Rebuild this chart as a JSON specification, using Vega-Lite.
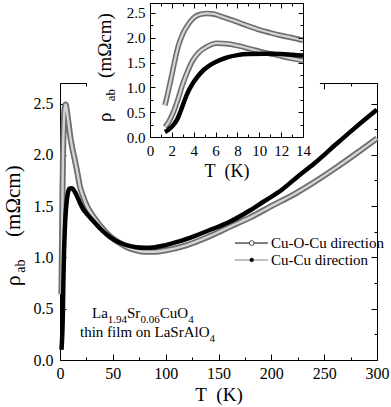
{
  "$schema": "https://vega.github.io/schema/vega-lite/v6.json",
  "width": 317,
  "height": 277,
  "autosize": {"type": "none"},
  "padding": {"left": 60, "top": 83, "right": 14, "bottom": 47},
  "background": "white",
  "config": {
    "font": "Liberation Serif",
    "view": {"stroke": null},
    "axis": {"grid": false, "domainColor": "black", "tickColor": "black", "labelColor": "black", "titleColor": "black", "labelFont": "Liberation Serif", "titleFont": "Liberation Serif", "titleFontWeight": "normal", "labelFlush": false, "labelOverlap": false, "domainWidth": 1, "tickWidth": 1},
    "text": {"font": "Liberation Serif", "color": "black"}
  },
  "datasets": {
    "rho": [
      {"s": "CuOCu", "T": 1.37, "rho": 0.64}, {"s": "CuOCu", "T": 1.5, "rho": 0.76}, {"s": "CuOCu", "T": 1.7, "rho": 0.95}, {"s": "CuOCu", "T": 1.9, "rho": 1.15}, {"s": "CuOCu", "T": 2.1, "rho": 1.36}, {"s": "CuOCu", "T": 2.3, "rho": 1.57}, {"s": "CuOCu", "T": 2.5, "rho": 1.76}, {"s": "CuOCu", "T": 2.75, "rho": 1.94}, {"s": "CuOCu", "T": 3.0, "rho": 2.08}, {"s": "CuOCu", "T": 3.35, "rho": 2.22}, {"s": "CuOCu", "T": 3.7, "rho": 2.33}, {"s": "CuOCu", "T": 4.1, "rho": 2.42}, {"s": "CuOCu", "T": 4.6, "rho": 2.47}, {"s": "CuOCu", "T": 5.2, "rho": 2.49}, {"s": "CuOCu", "T": 5.8, "rho": 2.48}, {"s": "CuOCu", "T": 6.5, "rho": 2.43}, {"s": "CuOCu", "T": 7.6, "rho": 2.35}, {"s": "CuOCu", "T": 8.7, "rho": 2.26}, {"s": "CuOCu", "T": 10, "rho": 2.16}, {"s": "CuOCu", "T": 11, "rho": 2.10}, {"s": "CuOCu", "T": 11.9, "rho": 2.05}, {"s": "CuOCu", "T": 13, "rho": 2.00}, {"s": "CuOCu", "T": 14, "rho": 1.95}, {"s": "CuOCu", "T": 16, "rho": 1.85}, {"s": "CuOCu", "T": 18.9, "rho": 1.69}, {"s": "CuOCu", "T": 22, "rho": 1.59}, {"s": "CuOCu", "T": 26, "rho": 1.49}, {"s": "CuOCu", "T": 31.5, "rho": 1.40}, {"s": "CuOCu", "T": 38, "rho": 1.31}, {"s": "CuOCu", "T": 47, "rho": 1.21}, {"s": "CuOCu", "T": 55, "rho": 1.15}, {"s": "CuOCu", "T": 63, "rho": 1.10}, {"s": "CuOCu", "T": 72, "rho": 1.07}, {"s": "CuOCu", "T": 80, "rho": 1.055}, {"s": "CuOCu", "T": 90, "rho": 1.055}, {"s": "CuOCu", "T": 100, "rho": 1.07}, {"s": "CuOCu", "T": 110, "rho": 1.09}, {"s": "CuOCu", "T": 120, "rho": 1.12}, {"s": "CuOCu", "T": 140, "rho": 1.20}, {"s": "CuOCu", "T": 161, "rho": 1.30}, {"s": "CuOCu", "T": 180, "rho": 1.39}, {"s": "CuOCu", "T": 200, "rho": 1.50}, {"s": "CuOCu", "T": 224, "rho": 1.63}, {"s": "CuOCu", "T": 240, "rho": 1.73}, {"s": "CuOCu", "T": 262, "rho": 1.88}, {"s": "CuOCu", "T": 280, "rho": 2.01}, {"s": "CuOCu", "T": 300, "rho": 2.16},
      {"s": "CuCu", "T": 1.37, "rho": 0.10}, {"s": "CuCu", "T": 1.6, "rho": 0.13}, {"s": "CuCu", "T": 1.9, "rho": 0.19}, {"s": "CuCu", "T": 2.2, "rho": 0.26}, {"s": "CuCu", "T": 2.5, "rho": 0.36}, {"s": "CuCu", "T": 2.8, "rho": 0.52}, {"s": "CuCu", "T": 3.1, "rho": 0.70}, {"s": "CuCu", "T": 3.4, "rho": 0.87}, {"s": "CuCu", "T": 3.8, "rho": 1.04}, {"s": "CuCu", "T": 4.3, "rho": 1.20}, {"s": "CuCu", "T": 4.9, "rho": 1.35}, {"s": "CuCu", "T": 5.5, "rho": 1.45}, {"s": "CuCu", "T": 6.2, "rho": 1.53}, {"s": "CuCu", "T": 7.0, "rho": 1.60}, {"s": "CuCu", "T": 8.0, "rho": 1.65}, {"s": "CuCu", "T": 9.0, "rho": 1.67}, {"s": "CuCu", "T": 10.5, "rho": 1.675}, {"s": "CuCu", "T": 12, "rho": 1.67}, {"s": "CuCu", "T": 13, "rho": 1.655}, {"s": "CuCu", "T": 14, "rho": 1.64}, {"s": "CuCu", "T": 16, "rho": 1.60}, {"s": "CuCu", "T": 18.9, "rho": 1.53}, {"s": "CuCu", "T": 22, "rho": 1.47}, {"s": "CuCu", "T": 25, "rho": 1.43}, {"s": "CuCu", "T": 31.5, "rho": 1.355}, {"s": "CuCu", "T": 40, "rho": 1.26}, {"s": "CuCu", "T": 47, "rho": 1.20}, {"s": "CuCu", "T": 55, "rho": 1.15}, {"s": "CuCu", "T": 63, "rho": 1.12}, {"s": "CuCu", "T": 72, "rho": 1.10}, {"s": "CuCu", "T": 80, "rho": 1.095}, {"s": "CuCu", "T": 90, "rho": 1.10}, {"s": "CuCu", "T": 100, "rho": 1.12}, {"s": "CuCu", "T": 120, "rho": 1.18}, {"s": "CuCu", "T": 140, "rho": 1.26}, {"s": "CuCu", "T": 161, "rho": 1.35}, {"s": "CuCu", "T": 180, "rho": 1.46}, {"s": "CuCu", "T": 192, "rho": 1.54}, {"s": "CuCu", "T": 210, "rho": 1.66}, {"s": "CuCu", "T": 224, "rho": 1.78}, {"s": "CuCu", "T": 240, "rho": 1.91}, {"s": "CuCu", "T": 262, "rho": 2.11}, {"s": "CuCu", "T": 280, "rho": 2.27}, {"s": "CuCu", "T": 300, "rho": 2.44},
      {"s": "mid", "T": 1.37, "rho": 0.20}, {"s": "mid", "T": 1.7, "rho": 0.30}, {"s": "mid", "T": 2.1, "rho": 0.48}, {"s": "mid", "T": 2.5, "rho": 0.72}, {"s": "mid", "T": 3.0, "rho": 1.07}, {"s": "mid", "T": 3.4, "rho": 1.30}, {"s": "mid", "T": 3.9, "rho": 1.54}, {"s": "mid", "T": 4.5, "rho": 1.71}, {"s": "mid", "T": 5.2, "rho": 1.82}, {"s": "mid", "T": 6.1, "rho": 1.89}, {"s": "mid", "T": 7.0, "rho": 1.88}, {"s": "mid", "T": 8.0, "rho": 1.84}, {"s": "mid", "T": 9.1, "rho": 1.78}, {"s": "mid", "T": 10.5, "rho": 1.70}, {"s": "mid", "T": 11.6, "rho": 1.65}, {"s": "mid", "T": 12.8, "rho": 1.59}, {"s": "mid", "T": 14, "rho": 1.54}
    ],
    "one": [{}]
  },
  "layer": [
    {
      "layer": [
        {
          "data": {"name": "rho"},
          "transform": [{"filter": "datum.s === 'CuOCu'"}],
          "mark": {"type": "line", "stroke": "#6e6e6e", "strokeWidth": 6, "interpolate": "monotone", "clip": false},
          "encoding": {
            "x": {"field": "T", "type": "quantitative", "scale": {"domain": [0, 300]},
              "axis": {"orient": "bottom", "values": [0, 25, 50, 75, 100, 125, 150, 175, 200, 225, 250, 275, 300], "labelExpr": "datum.value % 50 === 0 ? datum.label : ''", "tickSize": {"condition": {"test": "datum.value % 50 === 0", "value": -6}, "value": -3}, "labelPadding": 11, "labelFont": "Liberation Serif", "labelFontSize": 16, "title": "T\u00a0\u00a0(K)", "titleFont": "Liberation Serif", "titleFontSize": 19, "titlePadding": 1}},
            "y": {"field": "rho", "type": "quantitative", "scale": {"domain": [0, 2.7]},
              "axis": {"orient": "left", "values": [0, 0.25, 0.5, 0.75, 1, 1.25, 1.5, 1.75, 2, 2.25, 2.5], "labelExpr": "datum.value % 0.5 === 0 ? format(datum.value, '.1f') : ''", "tickSize": {"condition": {"test": "datum.value % 0.5 === 0", "value": -6}, "value": -3}, "labelPadding": 13, "labelFont": "Liberation Serif", "labelFontSize": 16, "title": null}}
          }
        },
        {
          "data": {"name": "rho"},
          "transform": [{"filter": "datum.s === 'CuOCu'"}],
          "mark": {"type": "line", "stroke": "#d4d4d4", "strokeWidth": 2.4, "interpolate": "monotone", "clip": false},
          "encoding": {
            "x": {"field": "T", "type": "quantitative", "scale": {"domain": [0, 300]},
              "axis": {"orient": "top", "zindex": 0, "values": [0, 25, 50, 75, 100, 125, 150, 175, 200, 225, 250, 275, 300], "labels": false, "tickSize": {"condition": {"test": "datum.value % 50 === 0", "value": -6}, "value": -3}, "title": null}},
            "y": {"field": "rho", "type": "quantitative", "scale": {"domain": [0, 2.7]},
              "axis": {"orient": "right", "values": [0, 0.25, 0.5, 0.75, 1, 1.25, 1.5, 1.75, 2, 2.25, 2.5], "labels": false, "tickSize": {"condition": {"test": "datum.value % 0.5 === 0", "value": -6}, "value": -3}, "title": null}}
          }
        },
        {
          "data": {"name": "rho"},
          "transform": [{"filter": "datum.s === 'CuCu'"}],
          "mark": {"type": "line", "stroke": "black", "strokeWidth": 4.5, "interpolate": "monotone", "clip": false},
          "encoding": {
            "x": {"field": "T", "type": "quantitative", "scale": {"domain": [0, 300]}, "axis": null},
            "y": {"field": "rho", "type": "quantitative", "scale": {"domain": [0, 2.7]}, "axis": null}
          }
        },
        {
          "data": {"name": "one"},
          "mark": {"type": "text", "text": "ρ", "angle": 270, "align": "left", "baseline": "alphabetic", "fontSize": 22},
          "encoding": {"x": {"datum": -37.4, "type": "quantitative", "scale": {"domain": [0, 300]}, "axis": null}, "y": {"datum": 0.72, "type": "quantitative", "scale": {"domain": [0, 2.7]}, "axis": null}}
        },
        {
          "data": {"name": "one"},
          "mark": {"type": "text", "text": "ab", "angle": 270, "align": "left", "baseline": "alphabetic", "fontSize": 14, "dy": 5},
          "encoding": {"x": {"datum": -37.4, "type": "quantitative", "scale": {"domain": [0, 300]}, "axis": null}, "y": {"datum": 0.85, "type": "quantitative", "scale": {"domain": [0, 2.7]}, "axis": null}}
        },
        {
          "data": {"name": "one"},
          "mark": {"type": "text", "text": "(mΩcm)", "angle": 270, "align": "left", "baseline": "alphabetic", "fontSize": 21},
          "encoding": {"x": {"datum": -37.4, "type": "quantitative", "scale": {"domain": [0, 300]}, "axis": null}, "y": {"datum": 1.2, "type": "quantitative", "scale": {"domain": [0, 2.7]}, "axis": null}}
        },
        {
          "data": {"name": "one"},
          "mark": {"type": "text", "text": "La", "align": "left", "baseline": "alphabetic", "fontSize": 15},
          "encoding": {"x": {"datum": 30.3, "type": "quantitative", "scale": {"domain": [0, 300]}, "axis": null}, "y": {"datum": 0.409, "type": "quantitative", "scale": {"domain": [0, 2.7]}, "axis": null}}
        },
        {
          "data": {"name": "one"},
          "mark": {"type": "text", "text": "1.94", "align": "left", "baseline": "alphabetic", "fontSize": 11, "dy": 5},
          "encoding": {"x": {"datum": 45.2, "type": "quantitative", "scale": {"domain": [0, 300]}, "axis": null}, "y": {"datum": 0.409, "type": "quantitative", "scale": {"domain": [0, 2.7]}, "axis": null}}
        },
        {
          "data": {"name": "one"},
          "mark": {"type": "text", "text": "Sr", "align": "left", "baseline": "alphabetic", "fontSize": 15},
          "encoding": {"x": {"datum": 63.4, "type": "quantitative", "scale": {"domain": [0, 300]}, "axis": null}, "y": {"datum": 0.409, "type": "quantitative", "scale": {"domain": [0, 2.7]}, "axis": null}}
        },
        {
          "data": {"name": "one"},
          "mark": {"type": "text", "text": "0.06", "align": "left", "baseline": "alphabetic", "fontSize": 11, "dy": 5},
          "encoding": {"x": {"datum": 76.2, "type": "quantitative", "scale": {"domain": [0, 300]}, "axis": null}, "y": {"datum": 0.409, "type": "quantitative", "scale": {"domain": [0, 2.7]}, "axis": null}}
        },
        {
          "data": {"name": "one"},
          "mark": {"type": "text", "text": "CuO", "align": "left", "baseline": "alphabetic", "fontSize": 15},
          "encoding": {"x": {"datum": 94.5, "type": "quantitative", "scale": {"domain": [0, 300]}, "axis": null}, "y": {"datum": 0.409, "type": "quantitative", "scale": {"domain": [0, 2.7]}, "axis": null}}
        },
        {
          "data": {"name": "one"},
          "mark": {"type": "text", "text": "4", "align": "left", "baseline": "alphabetic", "fontSize": 11, "dy": 5},
          "encoding": {"x": {"datum": 121.3, "type": "quantitative", "scale": {"domain": [0, 300]}, "axis": null}, "y": {"datum": 0.409, "type": "quantitative", "scale": {"domain": [0, 2.7]}, "axis": null}}
        },
        {
          "data": {"name": "one"},
          "mark": {"type": "text", "text": "thin film on LaSrAlO", "align": "left", "baseline": "alphabetic", "fontSize": 15},
          "encoding": {"x": {"datum": 18.9, "type": "quantitative", "scale": {"domain": [0, 300]}, "axis": null}, "y": {"datum": 0.224, "type": "quantitative", "scale": {"domain": [0, 2.7]}, "axis": null}}
        },
        {
          "data": {"name": "one"},
          "mark": {"type": "text", "text": "4", "align": "left", "baseline": "alphabetic", "fontSize": 11, "dy": 5},
          "encoding": {"x": {"datum": 141.6, "type": "quantitative", "scale": {"domain": [0, 300]}, "axis": null}, "y": {"datum": 0.224, "type": "quantitative", "scale": {"domain": [0, 2.7]}, "axis": null}}
        },
        {
          "data": {"name": "one"},
          "mark": {"type": "rule", "stroke": "black", "strokeWidth": 1},
          "encoding": {"x": {"datum": 165.6, "type": "quantitative", "scale": {"domain": [0, 300]}, "axis": null}, "x2": {"datum": 196.8}, "y": {"datum": 1.14, "type": "quantitative", "scale": {"domain": [0, 2.7]}, "axis": null}}
        },
        {
          "data": {"name": "one"},
          "mark": {"type": "point", "shape": "circle", "fill": "white", "stroke": "#444", "strokeWidth": 1, "opacity": 1, "size": 22},
          "encoding": {"x": {"datum": 181.4, "type": "quantitative", "scale": {"domain": [0, 300]}, "axis": null}, "y": {"datum": 1.14, "type": "quantitative", "scale": {"domain": [0, 2.7]}, "axis": null}}
        },
        {
          "data": {"name": "one"},
          "mark": {"type": "text", "text": "Cu-O-Cu direction", "align": "left", "baseline": "middle", "fontSize": 15},
          "encoding": {"x": {"datum": 199.7, "type": "quantitative", "scale": {"domain": [0, 300]}, "axis": null}, "y": {"datum": 1.14, "type": "quantitative", "scale": {"domain": [0, 2.7]}, "axis": null}}
        },
        {
          "data": {"name": "one"},
          "mark": {"type": "rule", "stroke": "#aaaaaa", "strokeWidth": 1.5},
          "encoding": {"x": {"datum": 165.6, "type": "quantitative", "scale": {"domain": [0, 300]}, "axis": null}, "x2": {"datum": 196.8}, "y": {"datum": 0.975, "type": "quantitative", "scale": {"domain": [0, 2.7]}, "axis": null}}
        },
        {
          "data": {"name": "one"},
          "mark": {"type": "point", "shape": "circle", "fill": "black", "stroke": "black", "strokeWidth": 0.5, "opacity": 1, "size": 14},
          "encoding": {"x": {"datum": 181.4, "type": "quantitative", "scale": {"domain": [0, 300]}, "axis": null}, "y": {"datum": 0.975, "type": "quantitative", "scale": {"domain": [0, 2.7]}, "axis": null}}
        },
        {
          "data": {"name": "one"},
          "mark": {"type": "text", "text": "Cu-Cu direction", "align": "left", "baseline": "middle", "fontSize": 15},
          "encoding": {"x": {"datum": 199.7, "type": "quantitative", "scale": {"domain": [0, 300]}, "axis": null}, "y": {"datum": 0.975, "type": "quantitative", "scale": {"domain": [0, 2.7]}, "axis": null}}
        }
      ],
      "resolve": {"axis": {"x": "independent", "y": "independent"}}
    },
    {
      "layer": [
        {
          "data": {"name": "one"},
          "mark": {"type": "rect", "fill": "white", "stroke": null},
          "encoding": {
            "x": {"datum": -5.76, "type": "quantitative", "scale": {"domain": [0, 14], "range": [90, 243]}, "axis": null},
            "x2": {"datum": 15.55},
            "y": {"datum": 2.76, "type": "quantitative", "scale": {"domain": [0, 2.7], "range": [54, -80]}, "axis": null},
            "y2": {"datum": -0.06}
          }
        },
        {
          "data": {"name": "rho"},
          "transform": [{"filter": "(datum.s === 'CuOCu' || datum.s === 'mid') && datum.T <= 14.2"}],
          "mark": {"type": "line", "stroke": "#6e6e6e", "strokeWidth": 5.5, "interpolate": "monotone", "clip": false},
          "encoding": {
            "detail": {"field": "s"},
            "x": {"field": "T", "type": "quantitative", "scale": {"domain": [0, 14], "range": [90, 243]},
              "axis": {"orient": "bottom", "zindex": 1, "offset": -223, "values": [0, 1, 2, 3, 4, 5, 6, 7, 8, 9, 10, 11, 12, 13, 14], "labelExpr": "datum.value % 2 === 0 ? datum.label : ''", "tickSize": {"condition": {"test": "datum.value % 2 === 0", "value": -5}, "value": -3}, "labelPadding": 11, "labelFont": "Liberation Serif", "labelFontSize": 15, "title": "T\u00a0\u00a0(K)", "titleFont": "Liberation Serif", "titleFontSize": 18, "titlePadding": 2}},
            "y": {"field": "rho", "type": "quantitative", "scale": {"domain": [0, 2.7], "range": [54, -80]},
              "axis": {"orient": "left", "zindex": 1, "offset": -90, "values": [0, 0.25, 0.5, 0.75, 1, 1.25, 1.5, 1.75, 2, 2.25, 2.5], "labelExpr": "datum.value % 0.5 === 0 ? format(datum.value, '.1f') : ''", "tickSize": {"condition": {"test": "datum.value % 0.5 === 0", "value": -5}, "value": -3}, "labelPadding": 10, "labelFont": "Liberation Serif", "labelFontSize": 15, "title": null}}
          }
        },
        {
          "data": {"name": "rho"},
          "transform": [{"filter": "(datum.s === 'CuOCu' || datum.s === 'mid') && datum.T <= 14.2"}],
          "mark": {"type": "line", "stroke": "#d4d4d4", "strokeWidth": 2.2, "interpolate": "monotone", "clip": false},
          "encoding": {
            "detail": {"field": "s"},
            "x": {"field": "T", "type": "quantitative", "scale": {"domain": [0, 14], "range": [90, 243]},
              "axis": {"orient": "top", "zindex": 1, "offset": 80, "values": [0, 1, 2, 3, 4, 5, 6, 7, 8, 9, 10, 11, 12, 13, 14], "labels": false, "tickSize": {"condition": {"test": "datum.value % 2 === 0", "value": -5}, "value": -3}, "title": null}},
            "y": {"field": "rho", "type": "quantitative", "scale": {"domain": [0, 2.7], "range": [54, -80]},
              "axis": {"orient": "right", "zindex": 1, "offset": -74, "values": [0, 0.25, 0.5, 0.75, 1, 1.25, 1.5, 1.75, 2, 2.25, 2.5], "labels": false, "tickSize": {"condition": {"test": "datum.value % 0.5 === 0", "value": -5}, "value": -3}, "title": null}}
          }
        },
        {
          "data": {"name": "rho"},
          "transform": [{"filter": "datum.s === 'CuCu' && datum.T <= 14.2"}],
          "mark": {"type": "line", "stroke": "black", "strokeWidth": 4.5, "interpolate": "monotone", "clip": false},
          "encoding": {
            "x": {"field": "T", "type": "quantitative", "scale": {"domain": [0, 14], "range": [90, 243]}, "axis": null},
            "y": {"field": "rho", "type": "quantitative", "scale": {"domain": [0, 2.7], "range": [54, -80]}, "axis": null}
          }
        },
        {
          "data": {"name": "one"},
          "mark": {"type": "text", "text": "ρ", "angle": 270, "align": "left", "baseline": "alphabetic", "fontSize": 19},
          "encoding": {"x": {"datum": -3.57, "type": "quantitative", "scale": {"domain": [0, 14], "range": [90, 243]}, "axis": null}, "y": {"datum": 0.3, "type": "quantitative", "scale": {"domain": [0, 2.7], "range": [54, -80]}, "axis": null}}
        },
        {
          "data": {"name": "one"},
          "mark": {"type": "text", "text": "ab", "angle": 270, "align": "left", "baseline": "alphabetic", "fontSize": 13, "dy": 4},
          "encoding": {"x": {"datum": -3.57, "type": "quantitative", "scale": {"domain": [0, 14], "range": [90, 243]}, "axis": null}, "y": {"datum": 0.72, "type": "quantitative", "scale": {"domain": [0, 2.7], "range": [54, -80]}, "axis": null}}
        },
        {
          "data": {"name": "one"},
          "mark": {"type": "text", "text": "(mΩcm)", "angle": 270, "align": "left", "baseline": "alphabetic", "fontSize": 19},
          "encoding": {"x": {"datum": -3.57, "type": "quantitative", "scale": {"domain": [0, 14], "range": [90, 243]}, "axis": null}, "y": {"datum": 1.19, "type": "quantitative", "scale": {"domain": [0, 2.7], "range": [54, -80]}, "axis": null}}
        }
      ],
      "resolve": {"axis": {"x": "independent", "y": "independent"}}
    }
  ],
  "resolve": {"scale": {"x": "independent", "y": "independent"}, "axis": {"x": "independent", "y": "independent"}}
}
